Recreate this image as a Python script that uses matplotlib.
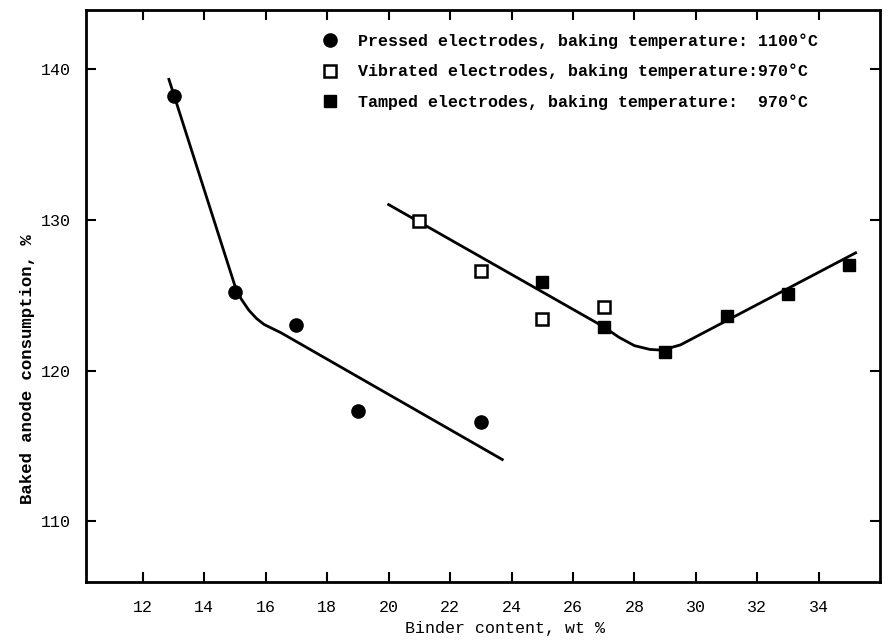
import numpy as np
import matplotlib
matplotlib.use("Agg")
import matplotlib.pyplot as plt
from matplotlib.lines import Line2D

# === Data ===
pressed_x = [13, 15, 17, 19, 23]
pressed_y = [138.2, 125.2, 123.0, 117.3, 116.6]

vibrated_x = [21, 23, 25, 27]
vibrated_y = [129.9, 126.6, 123.4, 124.2]

tamped_x = [25, 27, 29, 31, 33, 35]
tamped_y = [125.9, 122.9, 121.2, 123.6, 125.1, 127.0]

# hand-drawn fit curves (traced points)
pressed_curve_x = [12.85, 15.0, 15.2, 15.45, 15.7, 15.95, 16.2, 16.5, 23.7]
pressed_curve_y = [139.3, 125.6, 124.75, 124.0, 123.45, 123.05, 122.8, 122.5, 114.1]

tamped_curve_x = [20.0, 27.0, 27.5, 28.0, 28.5, 28.9, 29.5, 35.2]
tamped_curve_y = [131.0, 122.9, 122.2, 121.65, 121.4, 121.35, 121.7, 127.8]

x_ticks = [12, 14, 16, 18, 20, 22, 24, 26, 28, 30, 32, 34]
y_ticks = [110, 120, 130, 140]

legend_labels = [
    "Pressed electrodes, baking temperature: 1100°C",
    "Vibrated electrodes, baking temperature:970°C",
    "Tamped electrodes, baking temperature:  970°C",
]

FONT = "Liberation Mono"

# === Plot ===
fig = plt.figure(figsize=(8.9, 6.44), dpi=100)
ax = fig.add_axes([0.0966, 0.0967, 0.8924, 0.8878])

ax.plot(pressed_curve_x, pressed_curve_y, color="black", lw=2.0)
ax.plot(tamped_curve_x, tamped_curve_y, color="black", lw=2.0)

ax.plot(pressed_x, pressed_y, "o", color="black", ms=9.5, ls="none")
ax.plot(vibrated_x, vibrated_y, "s", mfc="white", mec="black", mew=1.8, ms=8, ls="none")
ax.plot(tamped_x, tamped_y, "s", color="black", ms=8.5, ls="none")

ax.set_xlim(10.15, 36.0)
ax.set_ylim(106.0, 143.9)
ax.set_xticks(x_ticks)
ax.set_yticks(y_ticks)

ax.tick_params(direction="in", length=7, width=1.5, top=True, right=True,
               labelsize=12)
ax.tick_params(axis="x", pad=13)
ax.tick_params(axis="y", pad=11)
for lab in ax.get_xticklabels() + ax.get_yticklabels():
    lab.set_fontfamily(FONT)

for sp in ax.spines.values():
    sp.set_linewidth(2.0)

ax.set_xlabel("Binder content, wt %", fontfamily=FONT, fontsize=12)
ax.xaxis.set_label_coords(0.528, -0.068)
ax.set_ylabel("Baked anode consumption, %", fontfamily=FONT,
              fontsize=12.5, fontweight="bold")
ax.yaxis.set_label_coords(-0.064, 0.372)

handles = [
    Line2D([], [], marker="o", color="black", ls="none", ms=9.5),
    Line2D([], [], marker="s", mfc="white", mec="black", mew=1.8, ls="none", ms=8),
    Line2D([], [], marker="s", color="black", ls="none", ms=8.5),
]
ax.legend(handles, legend_labels, loc="upper left",
          bbox_to_anchor=(0.278, 0.985), frameon=False,
          prop={"family": FONT, "weight": "bold", "size": 12},
          handlelength=1.0, handletextpad=1.2, labelspacing=0.88)

fig.savefig("out.png", dpi=100)
